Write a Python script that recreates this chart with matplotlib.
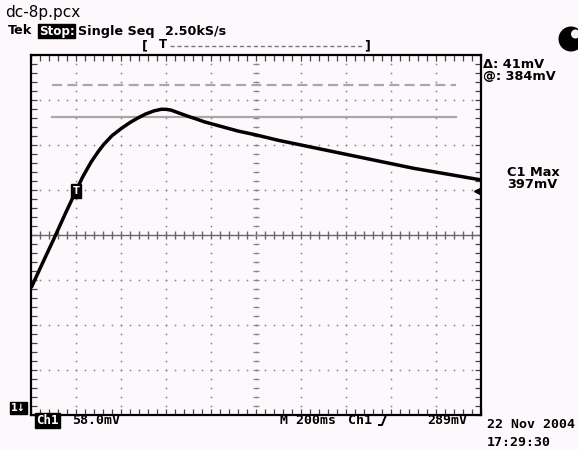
import matplotlib
matplotlib.use("Agg")
import matplotlib.pyplot as plt
from matplotlib.patches import Circle
import numpy as np

# ---- data ----
time_ms = [-196, -150, -100, -50, 0, 30, 67, 100, 124, 160, 200, 240, 276, 310,
           347, 378, 400, 422, 460, 498, 540, 569, 644, 720, 800, 900, 1000, 1100, 1200,
           1300, 1400, 1500, 1600, 1700, 1800]
ch1_mv = [166, 195, 226, 258, 289, 307, 326, 340, 349, 360, 369, 377, 383, 388,
          392, 394, 394, 393, 389, 385, 381, 378, 372, 366, 361, 354, 348, 342, 336,
          330, 324, 318, 313, 308, 303]
cursor_at_mv = 384
cursor_delta_mv = 41
trigger_mv = 289
volts_per_div = 58.0
ms_per_div = 200
trigger_pos_ms = 0

W, H = 578, 450
BG = '#fdf8fc'
fig = plt.figure(figsize=(W / 100, H / 100), dpi=100, facecolor=BG)

L, R, T, B = 31, 481, 55, 415
ax = fig.add_axes([L / W, 1 - B / H, (R - L) / W, (B - T) / H])
ax.set_facecolor(BG)
x0 = trigger_pos_ms - ms_per_div
x1 = x0 + 10 * ms_per_div
y0, y1 = 0, 8 * volts_per_div
ax.set_xlim(x0, x1)
ax.set_ylim(y0, y1)

gcol = '#8a8a8a'
# graticule dots
for i in range(1, 10):
    xv = x0 + i * ms_per_div
    ys = [y0 + k * volts_per_div / 5 for k in range(1, 40)]
    ax.plot([xv] * len(ys), ys, ls='none', marker='o', ms=1.3, color=gcol, mec='none')
for j in range(1, 8):
    yv = y0 + j * volts_per_div
    xs = [x0 + k * ms_per_div / 5 for k in range(1, 50)]
    ax.plot(xs, [yv] * len(xs), ls='none', marker='o', ms=1.3, color=gcol, mec='none')
# centre lines with ticks
yc = y0 + 4 * volts_per_div
xc = x0 + 5 * ms_per_div
ccol = '#666666'
ax.axhline(yc, color=ccol, lw=1.0)
xs = [x0 + k * ms_per_div / 5 for k in range(1, 50)]
ax.plot(xs, [yc] * len(xs), ls='none', marker='|', ms=6, mew=1.0, color=ccol)
ys = [y0 + k * volts_per_div / 5 for k in range(1, 40)]
ax.plot([xc] * len(ys), ys, ls='none', marker='_', ms=5, mew=0.9, color='#888888')

# frame ticks
ax.set_xticks([x0 + k * ms_per_div / 5 for k in range(51)])
ax.set_yticks([y0 + k * volts_per_div / 5 for k in range(41)])
ax.tick_params(direction='in', length=4, width=0.9, color='#444444',
               top=True, right=True, labelbottom=False, labelleft=False)
for s in ax.spines.values():
    s.set_linewidth(1.6)
    s.set_color('black')

# cursors
cx0 = x0 + (52 - L) / 45 * ms_per_div
cx1 = x0 + (456 - L) / 45 * ms_per_div
ax.plot([cx0, cx1], [cursor_at_mv, cursor_at_mv], color='#a8a8a8', lw=1.6)
ax.plot([cx0, cx1], [cursor_at_mv + cursor_delta_mv] * 2, color='#a8a8a8', lw=1.6,
        dashes=(4.5, 2.4))

# trace
ax.plot(time_ms, ch1_mv, color='black', lw=2.5, solid_joinstyle='round')

# trigger point marker
ax.text(trigger_pos_ms, trigger_mv, 'T', color='white', fontsize=7, fontweight='bold',
        ha='center', va='center',
        bbox=dict(boxstyle='square,pad=0.2', fc='black', ec='black'))
# trigger level arrow on right edge
ax.plot([x1 - ms_per_div * 0.1], [trigger_mv], marker='<', ms=5, color='black',
        clip_on=False)


def ft(x, y, s, **kw):
    fig.text(x / W, 1 - y / H, s, **kw)


ft(5, 12, 'dc-8p.pcx', fontsize=11, va='center', family='DejaVu Sans')
hdr = dict(fontweight='bold', va='center', family='DejaVu Sans')
ft(8, 31, 'Tek', fontsize=9.2, **hdr)
ft(39, 31, 'Stop:', color='white', fontsize=8.6,
   bbox=dict(boxstyle='square,pad=0.06', fc='black', ec='black'), **hdr)
ft(78, 31, 'Single Seq', fontsize=9.2, **hdr)
ft(165, 31, '2.50kS/s', fontsize=9.2, **hdr)

# record position bar
ft(142, 46, '[', fontsize=9, fontweight='bold', va='center')
ft(159, 45, 'T', fontsize=8.5, fontweight='bold', va='center')
fig.lines.append(plt.Line2D([170 / W, 364 / W], [1 - 46 / H] * 2, color='#777777', lw=1.0,
                            dashes=(3, 2), transform=fig.transFigure))
ft(364, 46, ']', fontsize=9, fontweight='bold', va='center')

# logo (pixel -> inches)
fig.patches.append(Circle((5.71, (H - 39) / 100), 0.125, transform=fig.dpi_scale_trans,
                          fc='black', ec='none'))
fig.patches.append(Circle((5.755, (H - 34) / 100), 0.045, transform=fig.dpi_scale_trans,
                          fc=BG, ec='none'))

side = dict(fontsize=9.3, va='center', family='DejaVu Sans', fontweight='bold')
ft(483, 65, 'Δ: 41mV', **side)
ft(483, 77, '@: 384mV', **side)
ft(507, 172, 'C1 Max', **side)
ft(507, 185, '397mV', **side)

mono = dict(fontsize=9.5, va='center', family='DejaVu Sans Mono', fontweight='bold')
ft(11, 408, '1↓', color='white', fontsize=7, fontweight='bold', va='center',
   bbox=dict(boxstyle='square,pad=0.15', fc='black', ec='black'))
ft(36, 420, 'Ch1', color='white', fontsize=9,
   bbox=dict(boxstyle='square,pad=0.08', fc='black', ec='black'),
   va='center', family='DejaVu Sans Mono', fontweight='bold')
ft(72, 420, '58.0mV', **mono)
ft(280, 420, 'M 200ms', **mono)
ft(348, 420, 'Ch1', **mono)
# rising-edge symbol
ex = np.array([379, 382, 386, 389]) / W
ey = 1 - np.array([425, 425, 415, 415]) / H
fig.lines.append(plt.Line2D(ex, ey, color='black', lw=1.4, transform=fig.transFigure))
ft(427, 420, '289mV', **mono)
ft(487, 424, '22 Nov 2004', **mono)
ft(487, 442, '17:29:30', **mono)

fig.savefig('out.png', dpi=100, facecolor=BG)
